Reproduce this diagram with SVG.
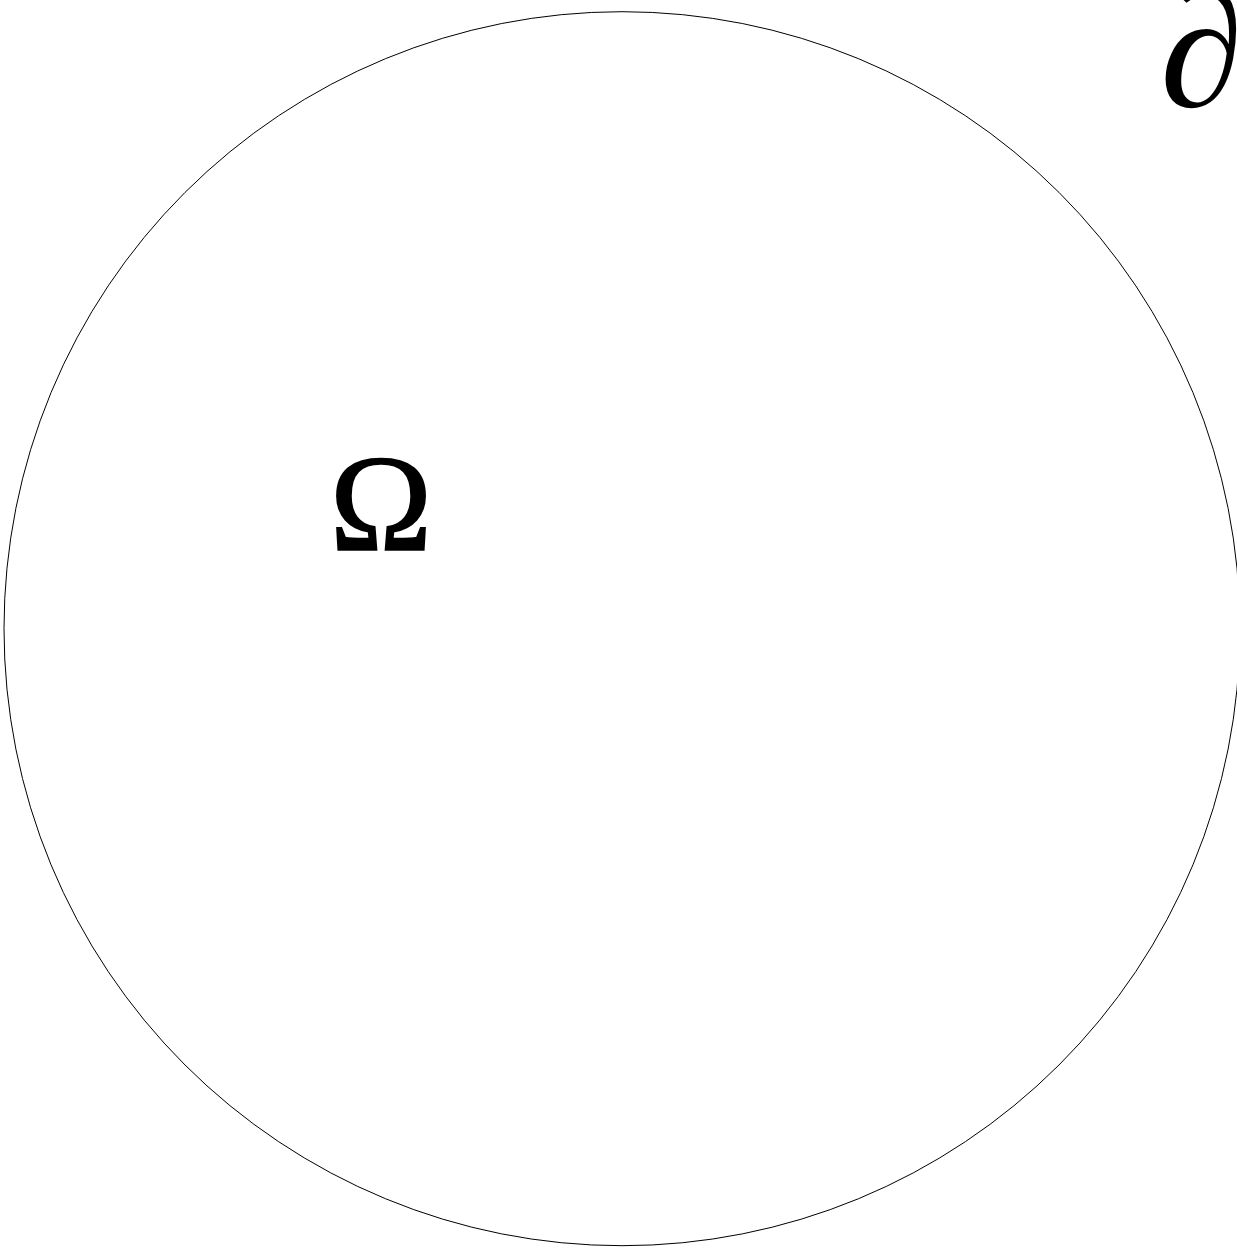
<svg xmlns="http://www.w3.org/2000/svg" width="1237" height="1252" viewBox="0 0 1237 1252">
<style>
.lbl{font-family:"Liberation Serif","Times New Roman",serif;fill:#000}
</style>
<rect width="1237" height="1252" fill="#fff"/>
<g id="domain">
<ellipse cx="622" cy="628.7" rx="618" ry="617" fill="none" stroke="#000" stroke-width="1"/>
</g>
<g id="omega-label">
<text class="lbl" x="381" y="550" font-size="138" text-anchor="middle" stroke="#000" stroke-width="1.6">Ω</text>
</g>
<g id="boundary-label">
<text class="lbl" x="1160" y="106" font-size="168" font-style="italic">∂</text>
</g>
</svg>
